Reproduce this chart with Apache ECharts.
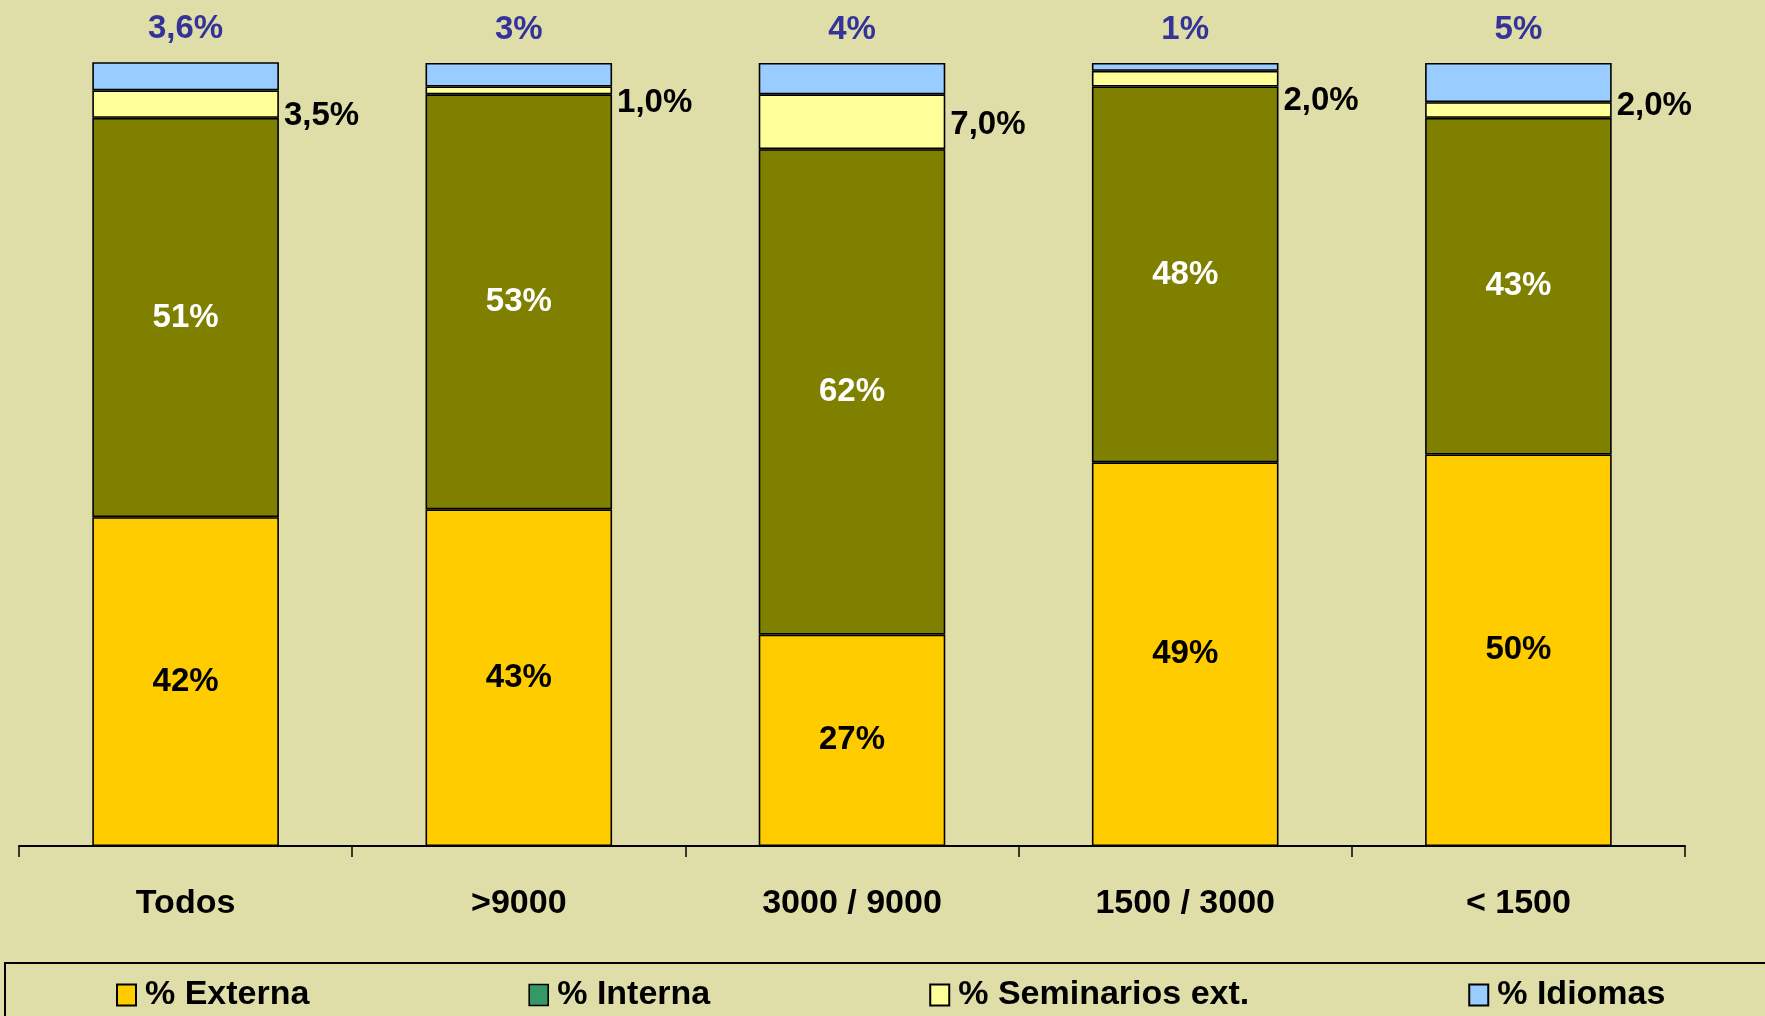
<!DOCTYPE html>
<html>
<head>
<meta charset="utf-8">
<script src="https://cdn.jsdelivr.net/npm/echarts@6/dist/echarts.min.js"></script>
<style>
html,body{margin:0;padding:0;background:#E0DEA8;}
#chart{width:1765px;height:1016px;}
</style>
</head>
<body>
<div id="chart"></div>
<script>
const categories = ['Todos', '>9000', '3000 / 9000', '1500 / 3000', '< 1500'];
const externa = [42, 43, 27, 49, 50];
const interna = [51, 53, 62, 48, 43];
const seminarios = [3.5, 1.0, 7.0, 2.0, 2.0];
const idiomas = [3.6, 3, 4, 1, 5];
const seriesNames = ['% Externa', '% Interna', '% Seminarios ext.', '% Idiomas'];

// label placement tweaks (layout only)
const seminarioLabelOffsetY = [12, 13, 3, 22, -4];

const FONT = '"Liberation Sans", Arial, sans-serif';
const border = { borderColor: '#000', borderWidth: 1.6 };
const lbl = { fontFamily: FONT, fontWeight: 'bold', fontSize: 33 };

const chart = echarts.init(document.getElementById('chart'), null, { renderer: 'canvas' });
chart.setOption({
  backgroundColor: '#E0DEA8',
  animation: false,
  grid: { left: 19, right: 80, top: 63, bottom: 170, containLabel: false },
  xAxis: {
    type: 'category',
    data: categories,
    axisLine: { lineStyle: { color: '#000', width: 2 } },
    axisTick: { show: true, length: 11, lineStyle: { color: '#000', width: 1.5 } },
    axisLabel: { color: '#000', fontFamily: FONT, fontWeight: 'bold', fontSize: 34, margin: 41 }
  },
  yAxis: { type: 'value', min: 0, max: 100, show: false, splitLine: { show: false } },
  legend: {
    left: 111, top: 973,
    icon: 'rect',
    itemWidth: 19, itemHeight: 21, itemGap: 219,
    textStyle: { color: '#000', fontFamily: FONT, fontWeight: 'bold', fontSize: 34, lineHeight: 34, padding: [0, 0, 0, 4] },
    data: [
      { name: seriesNames[0] },
      { name: seriesNames[1], itemStyle: { color: '#339966', borderColor: '#000', borderWidth: 1.6 } },
      { name: seriesNames[2] },
      { name: seriesNames[3] }
    ]
  },
  graphic: [{
    type: 'rect', silent: true,
    shape: { x: 5, y: 963, width: 1800, height: 100 },
    style: { fill: 'none', stroke: '#000', lineWidth: 2 }
  }],
  series: [
    {
      name: seriesNames[0], type: 'bar', stack: 's', data: externa, barCategoryGap: '44%', clip: false,
      itemStyle: Object.assign({ color: '#FFCC00' }, border),
      label: Object.assign({ show: true, position: 'inside', color: '#000', formatter: p => p.value + '%' }, lbl)
    },
    {
      name: seriesNames[1], type: 'bar', stack: 's', data: interna, clip: false,
      itemStyle: Object.assign({ color: '#808000' }, border),
      label: Object.assign({ show: true, position: 'inside', color: '#fff', formatter: p => p.value + '%' }, lbl)
    },
    {
      name: seriesNames[2], type: 'bar', stack: 's', clip: false,
      data: seminarios.map((v, i) => ({ value: v, label: { offset: [0, seminarioLabelOffsetY[i]] } })),
      itemStyle: Object.assign({ color: '#FFFF99' }, border),
      label: Object.assign({ show: true, position: 'right', distance: 5, color: '#000',
        formatter: p => p.value.toFixed(1).replace('.', ',') + '%' }, lbl)
    },
    {
      name: seriesNames[3], type: 'bar', stack: 's', data: idiomas, clip: false,
      itemStyle: Object.assign({ color: '#99CCFF' }, border),
      label: Object.assign({ show: true, position: 'top', distance: 17, color: '#333399',
        formatter: p => String(p.value).replace('.', ',') + '%' }, lbl)
    }
  ]
});
</script>
</body>
</html>
